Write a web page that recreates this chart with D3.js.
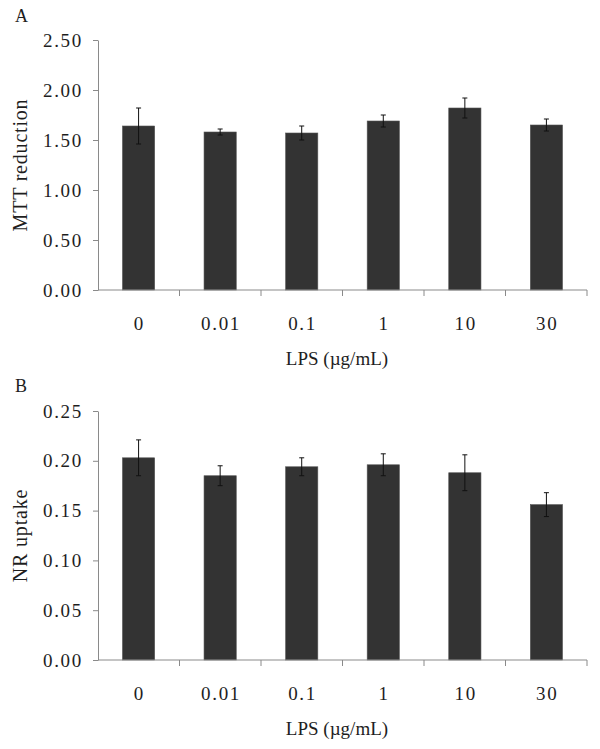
<!DOCTYPE html>
<html><head><meta charset="utf-8">
<script src="https://cdn.jsdelivr.net/npm/d3@7"></script>
<style>body{margin:0;background:#fff}svg{display:block}</style>
</head><body>
<script>
const categories = ["0","0.01","0.1","1","10","30"];
const mttValues = [1.64, 1.58, 1.57, 1.69, 1.82, 1.65];
const mttErrors = [0.18, 0.03, 0.07, 0.06, 0.10, 0.06];
const nrValues = [0.203, 0.185, 0.194, 0.196, 0.188, 0.156];
const nrErrors = [0.018, 0.010, 0.009, 0.011, 0.018, 0.012];
const mttTicks = [0, 0.5, 1.0, 1.5, 2.0, 2.5];
const nrTicks = [0, 0.05, 0.10, 0.15, 0.20, 0.25];

const svg = d3.select("body").append("svg").attr("width",600).attr("height",749);
const font = "'Liberation Serif','Times New Roman',serif";
const axisColor = "#8a8a8a";
const textColor = "#1e1e1e";

function panel(opt){
  const g = svg.append("g");
  const x = d3.scaleBand().domain(categories).range([98,587]).paddingInner(0.605).paddingOuter(0.3);
  const y = d3.scaleLinear().domain([0, opt.max]).range([opt.bottom, opt.top]);
  const cx = i => x(categories[i]) + x.bandwidth()/2;
  // bars
  g.selectAll("rect.bar").data(opt.values).enter().append("rect")
    .attr("x",(d,i)=>x(categories[i]))
    .attr("width",x.bandwidth())
    .attr("y",d=>y(d))
    .attr("height",d=>y(0)-y(d))
    .attr("fill","#333333").attr("stroke","#555").attr("stroke-width",0.6);
  // error bars
  const eg = g.selectAll("g.err").data(opt.values).enter().append("g");
  eg.append("line")
    .attr("x1",(d,i)=>cx(i)).attr("x2",(d,i)=>cx(i))
    .attr("y1",(d,i)=>y(d+opt.errors[i]))
    .attr("y2",(d,i)=>y(d-opt.errors[i]))
    .attr("stroke","#111").attr("stroke-width",1);
  [1,-1].forEach(s=>{
    eg.append("line")
      .attr("x1",(d,i)=>cx(i)-2.5).attr("x2",(d,i)=>cx(i)+2.5)
      .attr("y1",(d,i)=>y(d+s*opt.errors[i]))
      .attr("y2",(d,i)=>y(d+s*opt.errors[i]))
      .attr("stroke","#111").attr("stroke-width",1);
  });
  // y axis
  const ya = g.append("g").attr("transform","translate(98,0)")
    .call(d3.axisLeft(y).tickValues(opt.ticks).tickFormat(d3.format(".2f")).tickSize(5).tickSizeOuter(0).tickPadding(10));
  ya.select(".domain").attr("stroke",axisColor);
  ya.selectAll(".tick line").attr("stroke",axisColor);
  ya.selectAll(".tick text").attr("font-family",font).attr("font-size",19)
    .attr("letter-spacing","1.7px").attr("fill",textColor);
  // x axis
  const xa = g.append("g").attr("transform",`translate(0,${opt.bottom})`)
    .call(d3.axisBottom(x).tickSize(0).tickPadding(26.5));
  xa.select(".domain").attr("stroke",axisColor).attr("d",`M98,0H587`);
  xa.selectAll(".tick text").attr("font-family",font).attr("font-size",19)
    .attr("letter-spacing","1.7px").attr("dx","0.85px").attr("fill",textColor);
  // category boundary ticks
  const step = (587-98)/categories.length;
  const bounds = d3.range(categories.length).map(i=>98 + step*(i+1));
  xa.selectAll("line.bt").data(bounds).enter().append("line")
    .attr("x1",d=>d).attr("x2",d=>d).attr("y1",0).attr("y2",6)
    .attr("stroke",axisColor).attr("stroke-width",1);
  // y title
  g.append("text").attr("transform",`translate(27,${(opt.top+opt.bottom)/2}) rotate(-90)`)
    .attr("text-anchor","middle").attr("font-family",font).attr("font-size",20)
    .attr("letter-spacing","0.8px").attr("fill",textColor)
    .text(opt.ylabel);
  // x title
  g.append("text").attr("x",337).attr("y",opt.bottom+74.5)
    .attr("text-anchor","middle").attr("font-family",font).attr("font-size",19).attr("fill",textColor)
    .text("LPS (\u00b5g/mL)");
  // panel letter
  g.append("text").attr("x",15).attr("y",opt.letterY)
    .attr("font-family",font).attr("font-size",18).attr("fill",textColor).text(opt.letter);
}

panel({letter:"A", letterY:22, values:mttValues, errors:mttErrors, ticks:mttTicks, max:2.5, top:40, bottom:290, ylabel:"MTT reduction"});
panel({letter:"B", letterY:392, values:nrValues, errors:nrErrors, ticks:nrTicks, max:0.25, top:411, bottom:660, ylabel:"NR uptake"});
</script>
</body></html>
